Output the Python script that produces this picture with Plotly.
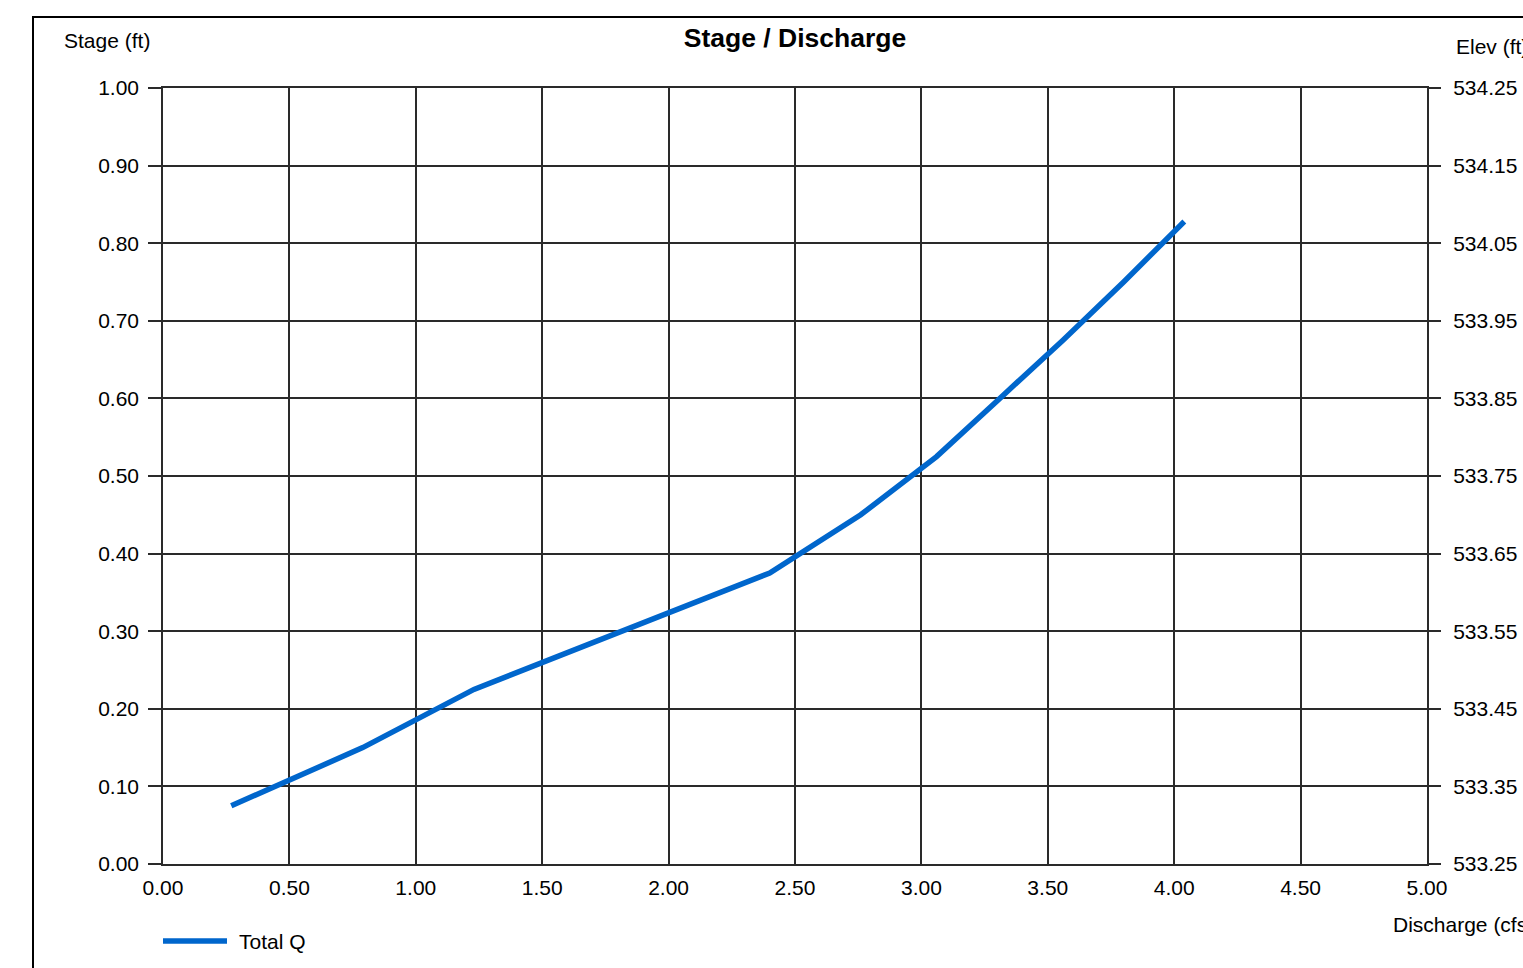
import plotly.graph_objects as go

# Data
discharge_cfs = [0.27, 0.79, 1.23, 1.81, 2.40, 2.76, 3.06, 3.31, 3.56, 3.80, 4.04]
stage_ft = [0.075, 0.150, 0.225, 0.300, 0.375, 0.450, 0.525, 0.600, 0.675, 0.750, 0.828]
base_elev_ft = 533.25
elev_ft = [round(s + base_elev_ft, 3) for s in stage_ft]

x_ticks = [0.0, 0.5, 1.0, 1.5, 2.0, 2.5, 3.0, 3.5, 4.0, 4.5, 5.0]
y_ticks = [0.0, 0.1, 0.2, 0.3, 0.4, 0.5, 0.6, 0.7, 0.8, 0.9, 1.0]
y2_ticks = [533.25, 533.35, 533.45, 533.55, 533.65, 533.75, 533.85, 533.95, 534.05, 534.15, 534.25]

FONT = "Liberation Sans, Arial, sans-serif"
GRID = "#2a2a2a"
BLUE = "#0066CC"
FS = 21

fig = go.Figure()
fig.add_trace(go.Scatter(
    x=discharge_cfs, y=stage_ft, mode="lines", name="Total Q",
    line=dict(color=BLUE, width=5.5), showlegend=False,
))
fig.add_trace(go.Scatter(
    x=discharge_cfs, y=elev_ft, mode="lines", yaxis="y2",
    line=dict(color=BLUE, width=0), opacity=0, showlegend=False, hoverinfo="skip",
))

fig.update_layout(
    width=1523, height=968,
    margin=dict(l=163, r=96, t=88, b=104, autoexpand=False),
    paper_bgcolor="white", plot_bgcolor="white",
    font=dict(family=FONT, size=FS, color="black"),
    title=dict(text="<b>Stage / Discharge</b>", x=0.5, xref="paper", xanchor="center",
               y=1 - 38 / 968, yref="container", yanchor="middle",
               font=dict(family=FONT, size=26.5, color="black")),
    xaxis=dict(range=[0, 5], tickvals=x_ticks, ticktext=[f"{v:.2f}" for v in x_ticks],
               showgrid=True, gridcolor=GRID, gridwidth=1.5,
               showline=True, linecolor=GRID, linewidth=1.5, mirror=True,
               ticks="", ticklabelstandoff=4, zeroline=False, automargin=False,
               tickfont=dict(family=FONT, size=FS, color="black")),
    yaxis=dict(range=[0, 1], tickvals=y_ticks, ticktext=[f"{v:.2f}" for v in y_ticks],
               showgrid=True, gridcolor=GRID, gridwidth=1.5,
               showline=True, linecolor=GRID, linewidth=1.5, mirror=True,
               ticks="outside", ticklen=13, tickwidth=1.5, tickcolor=GRID,
               ticklabelstandoff=5, zeroline=False, automargin=False,
               tickfont=dict(family=FONT, size=FS, color="black")),
    yaxis2=dict(range=[533.25, 534.25], overlaying="y", side="right",
                tickvals=y2_ticks, ticktext=[f"{v:.2f}" for v in y2_ticks],
                showgrid=False, zeroline=False, automargin=False,
                ticks="outside", ticklen=13, tickwidth=1.5, tickcolor=GRID,
                ticklabelstandoff=8,
                tickfont=dict(family=FONT, size=FS, color="black")),
    showlegend=False,
)

# Outer frame
fig.add_shape(type="rect", xref="paper", yref="paper",
              x0=(33 - 163) / 1264, x1=1.3, y0=-0.3, y1=(864 - 17) / 776,
              line=dict(color="black", width=2), fillcolor="rgba(0,0,0,0)", layer="below")

# Legend sample
fig.add_shape(type="line", xref="paper", yref="paper",
              x0=0.0, x1=(227 - 163) / 1264, y0=(864 - 941) / 776, y1=(864 - 941) / 776,
              line=dict(color=BLUE, width=5.5))

annots = [
    dict(text="Stage (ft)", x=(62 - 163) / 1264, y=(864 - 40) / 776, xanchor="left"),
    dict(text="Elev (ft)", x=(1454 - 163) / 1264, y=(864 - 47) / 776, xanchor="left"),
    dict(text="Discharge (cfs)", x=(1391 - 163) / 1264, y=(864 - 924) / 776, xanchor="left"),
    dict(text="Total Q", x=(237 - 163) / 1264, y=(864 - 941) / 776, xanchor="left"),
]
for a in annots:
    fig.add_annotation(xref="paper", yref="paper", showarrow=False, yanchor="middle",
                       font=dict(family=FONT, size=FS, color="black"), **a)

fig.write_html("out.html", config={"displayModeBar": False},
               post_script="document.body.style.margin='0';document.body.style.overflow='hidden';")
